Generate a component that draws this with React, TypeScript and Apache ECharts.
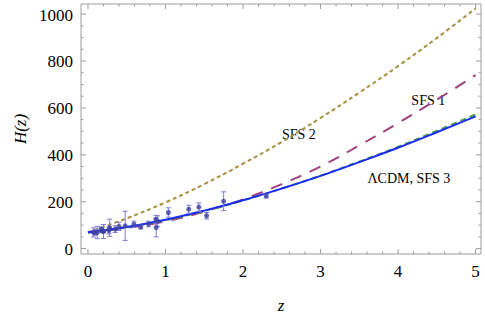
import React, { useEffect, useRef } from "react";
import * as echarts from "echarts";

// redshift grid for model curves
const zGrid = [0, 0.5, 1, 1.5, 2, 2.5, 3, 3.5, 4, 4.5, 5];
const hLCDM = [70, 92, 123, 162, 206, 256, 310, 369, 430, 496, 564];
const hSFS3 = [68, 90, 121, 160, 205, 256, 311, 371, 434, 502, 572];
const hSFS1 = [70, 88, 116, 158, 210, 275, 350, 440, 535, 635, 740];
const hSFS2 = [70, 129, 197, 275, 362, 455, 557, 665, 778, 898, 1024];

// observational H(z) data
const obsZ = [0.07, 0.09, 0.12, 0.17, 0.179, 0.199, 0.2, 0.27, 0.28, 0.352, 0.4, 0.48, 0.593, 0.68, 0.781, 0.875, 0.88, 0.9, 1.037, 1.3, 1.43, 1.53, 1.75, 2.3];
const obsH = [69, 69, 68.6, 83, 75, 75, 72.9, 77, 88.8, 83, 95, 97, 104, 92, 105, 125, 90, 117, 154, 168, 177, 140, 202, 224];
const obsErr = [19.6, 12, 26.2, 8, 4, 5, 29.6, 14, 36.6, 14, 17, 62, 13, 8, 12, 17, 40, 23, 20, 17, 18, 14, 40, 8];

// axis ticks
const xTicks = [0, 1, 2, 3, 4, 5];
const xTickLabels = ["0", "1", "2", "3", "4", "5"];
const yTicks = [0, 200, 400, 600, 800, 1000];
const yTickLabels = ["0", "200", "400", "600", "800", "1000"];

// curve annotations
const annoText = ["SFS 2", "SFS 1", "\u039BCDM, SFS 3"];
const annoZ = [2.72, 4.39, 4.14];
const annoH = [488, 633, 300];

const xMin = -0.09;
const xMax = 5.07;
const yMin = -23;
const yMax = 1043;

const SERIF = "'Liberation Serif', 'Times New Roman', 'DejaVu Serif', serif";

const txt = (text: string, size: number, align: string, italic = false) => ({
  text,
  fill: "#000",
  fontFamily: SERIF,
  fontSize: size,
  fontStyle: italic ? "italic" : "normal",
  align,
  verticalAlign: "middle",
});

export default function App() {
  const ref = useRef<HTMLDivElement>(null);

  useEffect(() => {
    if (!ref.current) return;
    const chart = echarts.init(ref.current, undefined, { renderer: "svg" });

    const frameColor = "#9c9c9c";

    const renderFrame = (_params: any, api: any) => {
      const tl = api.coord([xMin, yMax]);
      const br = api.coord([xMax, yMin]);
      const children: any[] = [];
      children.push({
        type: "rect",
        shape: { x: tl[0], y: tl[1], width: br[0] - tl[0], height: br[1] - tl[1] },
        style: { fill: "none", stroke: frameColor, lineWidth: 1 },
      });
      const ln = (x1: number, y1: number, x2: number, y2: number) => ({
        type: "line",
        shape: { x1, y1, x2, y2 },
        style: { stroke: frameColor, lineWidth: 1 },
      });
      for (let i = 0; i <= 25; i++) {
        const v = i * 0.2;
        const p = api.coord([v, yMin]);
        const len = i % 5 === 0 ? 5 : 2.5;
        children.push(ln(p[0], br[1], p[0], br[1] - len));
        children.push(ln(p[0], tl[1], p[0], tl[1] + len));
      }
      for (let i = 0; i <= 20; i++) {
        const v = i * 50;
        const p = api.coord([xMin, v]);
        const len = i % 4 === 0 ? 5 : 2.5;
        children.push(ln(tl[0], p[1], tl[0] + len, p[1]));
        children.push(ln(br[0], p[1], br[0] - len, p[1]));
      }
      xTicks.forEach((v, i) => {
        const p = api.coord([v, yMin]);
        children.push({ type: "text", x: p[0], y: br[1] + 17, style: txt(xTickLabels[i], 17, "center") });
      });
      yTicks.forEach((v, i) => {
        const p = api.coord([xMin, v]);
        children.push({ type: "text", x: tl[0] - 8, y: p[1] + 1, style: txt(yTickLabels[i], 17, "right") });
      });
      annoText.forEach((t, i) => {
        const p = api.coord([annoZ[i], annoH[i]]);
        children.push({ type: "text", x: p[0], y: p[1], style: txt(t, 14, "center") });
      });
      return { type: "group", children };
    };

    const renderErr = (_params: any, api: any) => {
      const z = api.value(0);
      const h = api.value(1);
      const e = api.value(2);
      const top = api.coord([z, h + e]);
      const bot = api.coord([z, h - e]);
      const w = 2.5;
      const st = { stroke: "#7c7cd2", lineWidth: 1 };
      return {
        type: "group",
        children: [
          { type: "line", shape: { x1: top[0], y1: top[1], x2: bot[0], y2: bot[1] }, style: st },
          { type: "line", shape: { x1: top[0] - w, y1: top[1], x2: top[0] + w, y2: top[1] }, style: st },
          { type: "line", shape: { x1: bot[0] - w, y1: bot[1], x2: bot[0] + w, y2: bot[1] }, style: st },
        ],
      };
    };

    const curve = (h: number[], color: string, type: any, width: number, z: number) => ({
      type: "line",
      data: zGrid.map((zz, i) => [zz, h[i]]),
      smooth: 0.4,
      symbol: "none",
      lineStyle: { color, type, width, cap: "butt" },
      z,
      silent: true,
    });

    chart.setOption({
      animation: false,
      textStyle: { fontFamily: SERIF },
      grid: { left: 81, right: 4, top: 4, bottom: 63, containLabel: false },
      xAxis: { type: "value", min: xMin, max: xMax, show: false },
      yAxis: { type: "value", min: yMin, max: yMax, show: false },
      series: [
        { type: "custom", data: [[0, 0]], renderItem: renderFrame, clip: false, silent: true, z: 1 },
        curve(hSFS2, "#a8913e", [4, 3], 2, 2),
        curve(hSFS1, "#a0427c", [12, 9], 2, 2),
        curve(hSFS3, "#4a9e4a", [6, 4], 2, 2),
        curve(hLCDM, "#1a2cf2", "solid", 2, 3),
        {
          type: "custom",
          data: obsZ.map((z, i) => [z, obsH[i], obsErr[i]]),
          encode: { x: 0, y: 1 },
          renderItem: renderErr,
          silent: true,
          z: 4,
        },
        {
          type: "scatter",
          data: obsZ.map((z, i) => [z, obsH[i]]),
          symbol: "circle",
          symbolSize: 5,
          itemStyle: { color: "#3c3ca6" },
          silent: true,
          z: 5,
        },
      ],
      graphic: [
        { type: "text", x: 20, y: 129, rotation: Math.PI / 2, style: txt("H(z)", 17, "center", true) },
        { type: "text", x: 281, y: 305, style: txt("z", 17, "center", true) },
      ],
    });

    return () => chart.dispose();
  }, []);

  return (
    <div
      ref={ref}
      style={{ position: "absolute", left: 0, top: 0, width: 485, height: 317, background: "#fff" }}
    />
  );
}
